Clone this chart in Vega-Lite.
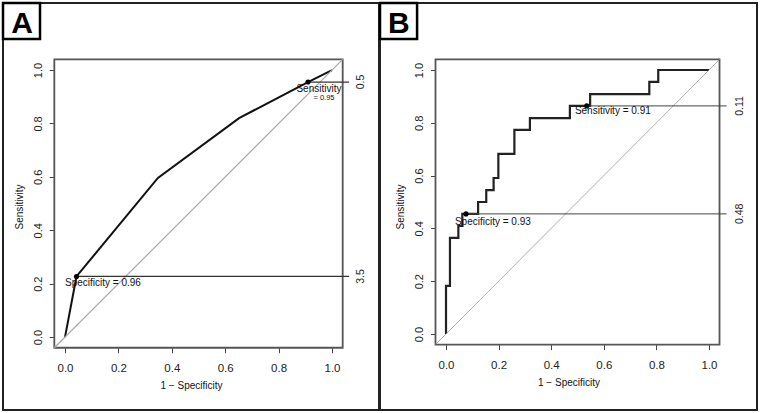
{
  "$schema": "https://vega.github.io/schema/vega-lite/v6.json",
  "background": "white",
  "padding": {"left": 0, "top": 0, "right": 0, "bottom": 0},
  "spacing": -3,
  "datasets": {
    "rocA": [
      {"fpr": 0, "tpr": 0},
      {"fpr": 0.043, "tpr": 0.227},
      {"fpr": 0.348, "tpr": 0.596},
      {"fpr": 0.652, "tpr": 0.82},
      {"fpr": 0.91, "tpr": 0.955},
      {"fpr": 1, "tpr": 1}
    ],
    "cutA": [
      {"fpr": 0.043, "tpr": 0.227, "threshold": "3.5"},
      {"fpr": 0.91, "tpr": 0.955, "threshold": "0.5"}
    ],
    "rocB": [
      {"i": 0, "fpr": 0, "tpr": 0},
      {"i": 1, "fpr": 0, "tpr": 0.182},
      {"i": 2, "fpr": 0.015, "tpr": 0.182},
      {"i": 3, "fpr": 0.015, "tpr": 0.364},
      {"i": 4, "fpr": 0.047, "tpr": 0.364},
      {"i": 5, "fpr": 0.047, "tpr": 0.409},
      {"i": 6, "fpr": 0.062, "tpr": 0.409},
      {"i": 7, "fpr": 0.062, "tpr": 0.455},
      {"i": 8, "fpr": 0.122, "tpr": 0.455},
      {"i": 9, "fpr": 0.122, "tpr": 0.5},
      {"i": 10, "fpr": 0.153, "tpr": 0.5},
      {"i": 11, "fpr": 0.153, "tpr": 0.545},
      {"i": 12, "fpr": 0.181, "tpr": 0.545},
      {"i": 13, "fpr": 0.181, "tpr": 0.591},
      {"i": 14, "fpr": 0.199, "tpr": 0.591},
      {"i": 15, "fpr": 0.199, "tpr": 0.682},
      {"i": 16, "fpr": 0.26, "tpr": 0.682},
      {"i": 17, "fpr": 0.26, "tpr": 0.773},
      {"i": 18, "fpr": 0.319, "tpr": 0.773},
      {"i": 19, "fpr": 0.319, "tpr": 0.818},
      {"i": 20, "fpr": 0.471, "tpr": 0.818},
      {"i": 21, "fpr": 0.471, "tpr": 0.864},
      {"i": 22, "fpr": 0.548, "tpr": 0.864},
      {"i": 23, "fpr": 0.548, "tpr": 0.909},
      {"i": 24, "fpr": 0.773, "tpr": 0.909},
      {"i": 25, "fpr": 0.773, "tpr": 0.955},
      {"i": 26, "fpr": 0.807, "tpr": 0.955},
      {"i": 27, "fpr": 0.807, "tpr": 1},
      {"i": 28, "fpr": 1, "tpr": 1}
    ],
    "cutB": [
      {"fpr": 0.076, "tpr": 0.455, "threshold": "0.48"},
      {"fpr": 0.535, "tpr": 0.864, "threshold": "0.11"}
    ],
    "one": [{}]
  },
  "hconcat": [
    {
      "width": 376,
      "height": 407,
      "layer": [
        {
          "data": {"name": "rocA"},
          "mark": {"type": "line", "stroke": "#111", "strokeWidth": 2},
          "encoding": {
            "x": {"field": "fpr", "type": "quantitative", "scale": {"domain": [-0.2322, 1.176], "nice": false, "zero": false},
              "axis": {"values": [0, 0.2, 0.4, 0.6, 0.8, 1], "format": ".1f", "offset": -62.3, "title": "1 − Specificity", "labelPadding": 10, "titlePadding": 6}},
            "y": {"field": "tpr", "type": "quantitative", "scale": {"domain": [-0.273, 1.251], "nice": false, "zero": false},
              "axis": {"values": [0, 0.2, 0.4, 0.6, 0.8, 1], "format": ".1f", "offset": -51.3, "title": "Sensitivity", "labelPadding": 6, "titlePadding": 8}}
          }
        },
        {
          "data": {"name": "one"},
          "mark": {"type": "rect", "fill": null, "stroke": "#555", "strokeWidth": 1.8},
          "encoding": {
            "x": {"datum": -0.04, "type": "quantitative"},
            "x2": {"datum": 1.04},
            "y": {"datum": -0.04, "type": "quantitative"},
            "y2": {"datum": 1.04}
          }
        },
        {
          "data": {"name": "one"},
          "mark": {"type": "rule", "stroke": "#aaa", "strokeWidth": 1.2},
          "encoding": {
            "x": {"datum": -0.04, "type": "quantitative"},
            "x2": {"datum": 1.04},
            "y": {"datum": -0.04, "type": "quantitative"},
            "y2": {"datum": 1.04}
          }
        },
        {
          "data": {"name": "cutA"},
          "mark": {"type": "rule", "stroke": "#333", "strokeWidth": 1.2},
          "encoding": {
            "x": {"field": "fpr", "type": "quantitative"},
            "x2": {"datum": 1.064},
            "y": {"field": "tpr", "type": "quantitative"}
          }
        },
        {
          "data": {"name": "cutA"},
          "mark": {"type": "point", "filled": true, "color": "#000", "size": 26, "opacity": 1},
          "encoding": {
            "x": {"field": "fpr", "type": "quantitative"},
            "y": {"field": "tpr", "type": "quantitative"}
          }
        },
        {
          "data": {"name": "cutA"},
          "mark": {"type": "text", "angle": 270, "font": "Liberation Sans", "fontSize": 10.5, "color": "#222", "align": "center", "baseline": "middle"},
          "encoding": {
            "x": {"datum": 1.109, "type": "quantitative"},
            "y": {"field": "tpr", "type": "quantitative"},
            "text": {"field": "threshold"}
          }
        },
        {
          "data": {"name": "one"},
          "mark": {"type": "text", "font": "Liberation Sans", "fontSize": 10, "color": "#111", "align": "left", "baseline": "middle"},
          "encoding": {
            "x": {"datum": 0.0, "type": "quantitative"},
            "y": {"datum": 0.203, "type": "quantitative"},
            "text": {"value": "Specificity = 0.96"}
          }
        },
        {
          "data": {"name": "one"},
          "mark": {"type": "text", "font": "Liberation Sans", "fontSize": 10, "color": "#111", "align": "center", "baseline": "middle"},
          "encoding": {
            "x": {"datum": 0.951, "type": "quantitative"},
            "y": {"datum": 0.929, "type": "quantitative"},
            "text": {"value": "Sensitivity"}
          }
        },
        {
          "data": {"name": "one"},
          "mark": {"type": "text", "font": "Liberation Sans", "fontSize": 7.5, "color": "#111", "align": "center", "baseline": "middle"},
          "encoding": {
            "x": {"datum": 0.97, "type": "quantitative"},
            "y": {"datum": 0.895, "type": "quantitative"},
            "text": {"value": "= 0.95"}
          }
        },
        {
          "data": {"name": "one"},
          "mark": {"type": "rect", "fill": "white", "stroke": "#000", "strokeWidth": 2.5},
          "encoding": {
            "x": {"datum": -0.2322, "type": "quantitative"},
            "x2": {"datum": -0.0936},
            "y": {"datum": 1.251, "type": "quantitative"},
            "y2": {"datum": 1.116}
          }
        },
        {
          "data": {"name": "one"},
          "mark": {"type": "text", "font": "Liberation Sans", "fontSize": 30, "fontWeight": "bold", "color": "#000", "align": "center", "baseline": "alphabetic"},
          "encoding": {
            "x": {"datum": -0.161, "type": "quantitative"},
            "y": {"datum": 1.1397, "type": "quantitative"},
            "text": {"value": "A"}
          }
        }
      ]
    },
    {
      "width": 377,
      "height": 407,
      "layer": [
        {
          "data": {"name": "rocB"},
          "mark": {"type": "line", "stroke": "#222", "strokeWidth": 2.2},
          "encoding": {
            "x": {"field": "fpr", "type": "quantitative", "scale": {"domain": [-0.251, 1.1825], "nice": false, "zero": false},
              "axis": {"values": [0, 0.2, 0.4, 0.6, 0.8, 1], "format": ".1f", "offset": -65.4, "title": "1 − Specificity", "labelPadding": 10, "titlePadding": 6}},
            "y": {"field": "tpr", "type": "quantitative", "scale": {"domain": [-0.2879, 1.2538], "nice": false, "zero": false},
              "axis": {"values": [0, 0.2, 0.4, 0.6, 0.8, 1], "format": ".1f", "offset": -55.5, "title": "Sensitivity", "labelPadding": 6, "titlePadding": 8}},
            "order": {"field": "i", "type": "quantitative"}
          }
        },
        {
          "data": {"name": "one"},
          "mark": {"type": "rect", "fill": null, "stroke": "#555", "strokeWidth": 1.8},
          "encoding": {
            "x": {"datum": -0.04, "type": "quantitative"},
            "x2": {"datum": 1.04},
            "y": {"datum": -0.04, "type": "quantitative"},
            "y2": {"datum": 1.04}
          }
        },
        {
          "data": {"name": "one"},
          "mark": {"type": "rule", "stroke": "#999", "strokeWidth": 0.8},
          "encoding": {
            "x": {"datum": -0.04, "type": "quantitative"},
            "x2": {"datum": 1.04},
            "y": {"datum": -0.04, "type": "quantitative"},
            "y2": {"datum": 1.04}
          }
        },
        {
          "data": {"name": "cutB"},
          "mark": {"type": "rule", "stroke": "#444", "strokeWidth": 1},
          "encoding": {
            "x": {"field": "fpr", "type": "quantitative"},
            "x2": {"datum": 1.067},
            "y": {"field": "tpr", "type": "quantitative"}
          }
        },
        {
          "data": {"name": "cutB"},
          "mark": {"type": "point", "filled": true, "color": "#000", "size": 26, "opacity": 1},
          "encoding": {
            "x": {"field": "fpr", "type": "quantitative"},
            "y": {"field": "tpr", "type": "quantitative"}
          }
        },
        {
          "data": {"name": "cutB"},
          "mark": {"type": "text", "angle": 270, "font": "Liberation Sans", "fontSize": 10.5, "color": "#222", "align": "center", "baseline": "middle"},
          "encoding": {
            "x": {"datum": 1.118, "type": "quantitative"},
            "y": {"field": "tpr", "type": "quantitative"},
            "text": {"field": "threshold"}
          }
        },
        {
          "data": {"name": "one"},
          "mark": {"type": "text", "font": "Liberation Sans", "fontSize": 10, "color": "#111", "align": "left", "baseline": "middle"},
          "encoding": {
            "x": {"datum": 0.49, "type": "quantitative"},
            "y": {"datum": 0.845, "type": "quantitative"},
            "text": {"value": "Sensitivity = 0.91"}
          }
        },
        {
          "data": {"name": "one"},
          "mark": {"type": "text", "font": "Liberation Sans", "fontSize": 10, "color": "#111", "align": "left", "baseline": "middle"},
          "encoding": {
            "x": {"datum": 0.034, "type": "quantitative"},
            "y": {"datum": 0.425, "type": "quantitative"},
            "text": {"value": "Specificity = 0.93"}
          }
        },
        {
          "data": {"name": "one"},
          "mark": {"type": "rect", "fill": "white", "stroke": "#000", "strokeWidth": 2.5},
          "encoding": {
            "x": {"datum": -0.251, "type": "quantitative"},
            "x2": {"datum": -0.11},
            "y": {"datum": 1.2538, "type": "quantitative"},
            "y2": {"datum": 1.117}
          }
        },
        {
          "data": {"name": "one"},
          "mark": {"type": "text", "font": "Liberation Sans", "fontSize": 30, "fontWeight": "bold", "color": "#000", "align": "center", "baseline": "alphabetic"},
          "encoding": {
            "x": {"datum": -0.179, "type": "quantitative"},
            "y": {"datum": 1.141, "type": "quantitative"},
            "text": {"value": "B"}
          }
        }
      ]
    }
  ],
  "config": {
    "view": {"stroke": "#222", "strokeWidth": 2},
    "axis": {
      "zindex": 1,
      "domain": false,
      "grid": false,
      "tickSize": 5,
      "tickColor": "#444",
      "tickWidth": 1,
      "labelFont": "Liberation Sans",
      "labelColor": "#222",
      "labelFlush": false,
      "labelOverlap": false,
      "titleFont": "Liberation Sans",
      "titleFontSize": 10,
      "titleFontWeight": "normal",
      "titleColor": "#111"
    },
    "axisX": {"labelFontSize": 11.5},
    "axisY": {"labelFontSize": 11, "labelAngle": 270, "labelAlign": "center", "labelBaseline": "bottom"}
  }
}
